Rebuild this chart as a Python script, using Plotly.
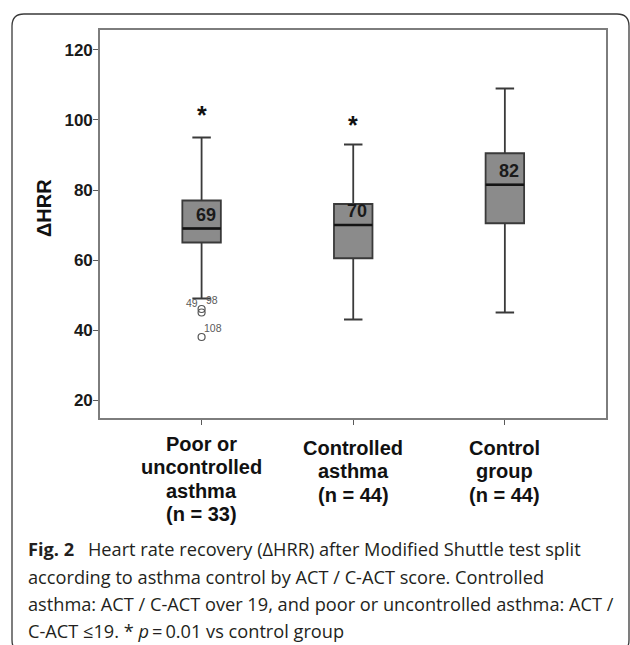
import plotly.graph_objects as go

# ---------------- data ----------------
groups = ["Poor or<br>uncontrolled<br>asthma<br>(n = 33)",
          "Controlled<br>asthma<br>(n = 44)",
          "Control<br>group<br>(n = 44)"]
q1 = [65, 60.5, 70.5]
medians = [69, 70, 81.5]
q3 = [77, 76, 90.5]
lower_whisker = [49, 43, 45]
upper_whisker = [95, 93, 109]
median_labels = ["69", "70", "82"]

outlier_group = [0, 0, 0]
outlier_values = [46, 45, 38]
outlier_labels = ["49", "98", "108"]

star_groups = [0, 1]
star_values = [102.4, 99.5]

y_ticks = [20, 40, 60, 80, 100, 120]
y_title = "ΔHRR"

caption_lines = [
    "<b>Fig. 2</b>\u2002 Heart rate recovery (ΔHRR) after Modified Shuttle test split",
    "according to asthma control by ACT / C-ACT score. Controlled",
    "asthma: ACT / C-ACT over 19, and poor or uncontrolled asthma: ACT /",
    "C-ACT \u226419. * <i>p</i>\u2009=\u20090.01 vs control group",
]

# ---------------- layout geometry (pixels) ----------------
W, H = 630, 645
PL, PR, PT, PB = 100, 606, 30, 418          # plot area in px
def px_x(px):
    return (px - PL) / (PR - PL)
def px_y(py):
    return (PB - py) / (PB - PT)

AXF = "Liberation Sans, Arial, sans-serif"
CAPF = "Open Sans, Noto Sans, sans-serif"
BOXW = 0.254
idx = list(range(len(groups)))

fig = go.Figure()

fig.add_trace(go.Box(
    x=idx, q1=q1, median=medians, q3=q3,
    lowerfence=lower_whisker, upperfence=upper_whisker,
    width=BOXW, whiskerwidth=0.48,
    fillcolor="#8b8b8b",
    line=dict(color="#3a3a3a", width=1.8),
    boxpoints=False, showlegend=False, hoverinfo="skip",
))

# darker median lines derived from the medians
mx, my = [], []
for i, m in zip(idx, medians):
    mx += [i - BOXW / 2, i + BOXW / 2, None]
    my += [m, m, None]
fig.add_trace(go.Scatter(x=mx, y=my, mode="lines",
                         line=dict(color="#141414", width=2.4),
                         showlegend=False, hoverinfo="skip"))

# outliers
fig.add_trace(go.Scatter(x=outlier_group, y=outlier_values, mode="markers",
                         marker=dict(symbol="circle-open", size=7, color="#555555",
                                     line=dict(color="#555555", width=1.2)),
                         showlegend=False, hoverinfo="skip"))

annotations = []
# outlier labels
lab_dx = [-9.5, 10, 11]
lab_dy = [6, 13, 9.5]
for g, v, t, dx, dy in zip(outlier_group, outlier_values, outlier_labels, lab_dx, lab_dy):
    annotations.append(dict(x=g, y=v, xref="x", yref="y", text=t, showarrow=False,
                            xshift=dx, yshift=dy, xanchor="center", yanchor="middle",
                            font=dict(family=AXF, size=10.5, color="#5a5a5a")))
# median labels
for i, m, t in zip(idx, medians, median_labels):
    annotations.append(dict(x=i, y=m, xref="x", yref="y", text=t, showarrow=False,
                            xshift=4, yshift=14, xanchor="center", yanchor="middle",
                            font=dict(family=AXF, size=18, color="#1a1a1a", weight="bold")))
# significance stars
for g, v in zip(star_groups, star_values):
    annotations.append(dict(x=g, y=v, xref="x", yref="y", text="*", showarrow=False,
                            yshift=-3, xanchor="center", yanchor="middle",
                            font=dict(family=AXF, size=25, color="#111111", weight="bold")))
# category labels, one annotation per line
top_base = [450.7, 454.5, 454.5]
LSP = 23.5
for i, lab in enumerate(groups):
    for k, line in enumerate(lab.split("<br>")):
        base = top_base[i] + k * LSP
        annotations.append(dict(x=i, y=px_y(base - 7), xref="x", yref="paper",
                                text=line, showarrow=False, xanchor="center", yanchor="middle",
                                font=dict(family=AXF, size=20, color="#111111", weight="bold")))
# y title
annotations.append(dict(x=px_x(44), y=px_y(208), xref="paper", yref="paper",
                        text=y_title, showarrow=False, textangle=-90,
                        xanchor="center", yanchor="middle",
                        font=dict(family=AXF, size=20, color="#111111", weight="bold")))
# caption
cap_base = [555, 582.5, 610, 637]
for line, b in zip(caption_lines, cap_base):
    annotations.append(dict(x=px_x(26), y=px_y(b - 6), xref="paper", yref="paper",
                            text=line, showarrow=False, xanchor="left", yanchor="middle",
                            font=dict(family=CAPF, size=18.2, color="#231f20")))

# outer rounded frame
L, T, R, B, r = 12, 14, 629, 652, 12
pts = [("M", L, T + r), ("Q", L, T, L + r, T), ("L", R - r, T), ("Q", R, T, R, T + r),
       ("L", R, B - r), ("Q", R, B, R - r, B), ("L", L + r, B), ("Q", L, B, L, B - r)]
path = ""
for p in pts:
    cmd = p[0]
    coords = p[1:]
    s = []
    for j in range(0, len(coords), 2):
        s.append(f"{px_x(coords[j]):.5f},{px_y(coords[j+1]):.5f}")
    path += cmd + " " + " ".join(s) + " "
path += "Z"

fig.update_layout(
    width=W, height=H, autosize=False,
    margin=dict(l=PL, r=W - PR, t=PT, b=H - PB, pad=0),
    paper_bgcolor="white", plot_bgcolor="white",
    annotations=annotations,
    shapes=[dict(type="path", path=path, xref="paper", yref="paper",
                 line=dict(color="#3a3a3a", width=1.3), layer="below")],
    xaxis=dict(range=[-0.67, 2.667], tickvals=idx, showticklabels=False,
               ticks="outside", ticklen=5, tickwidth=1.2, tickcolor="#5a5a5a",
               showline=True, mirror=True, linecolor="#7d7d7d", linewidth=1.6,
               showgrid=False, zeroline=False, fixedrange=True),
    yaxis=dict(range=[14.86, 125.71], tickvals=y_ticks,
               ticks="outside", ticklen=5, tickwidth=1.2, tickcolor="#5a5a5a",
               ticklabelstandoff=-3,
               tickfont=dict(family=AXF, size=17, color="#1a1a1a", weight="bold"),
               showline=True, mirror=True, linecolor="#7d7d7d", linewidth=1.6,
               showgrid=False, zeroline=False, fixedrange=True),
)

fig.write_html("out.html", config={"displayModeBar": False},
               post_script="document.body.style.margin='0';document.body.style.padding='0';")
